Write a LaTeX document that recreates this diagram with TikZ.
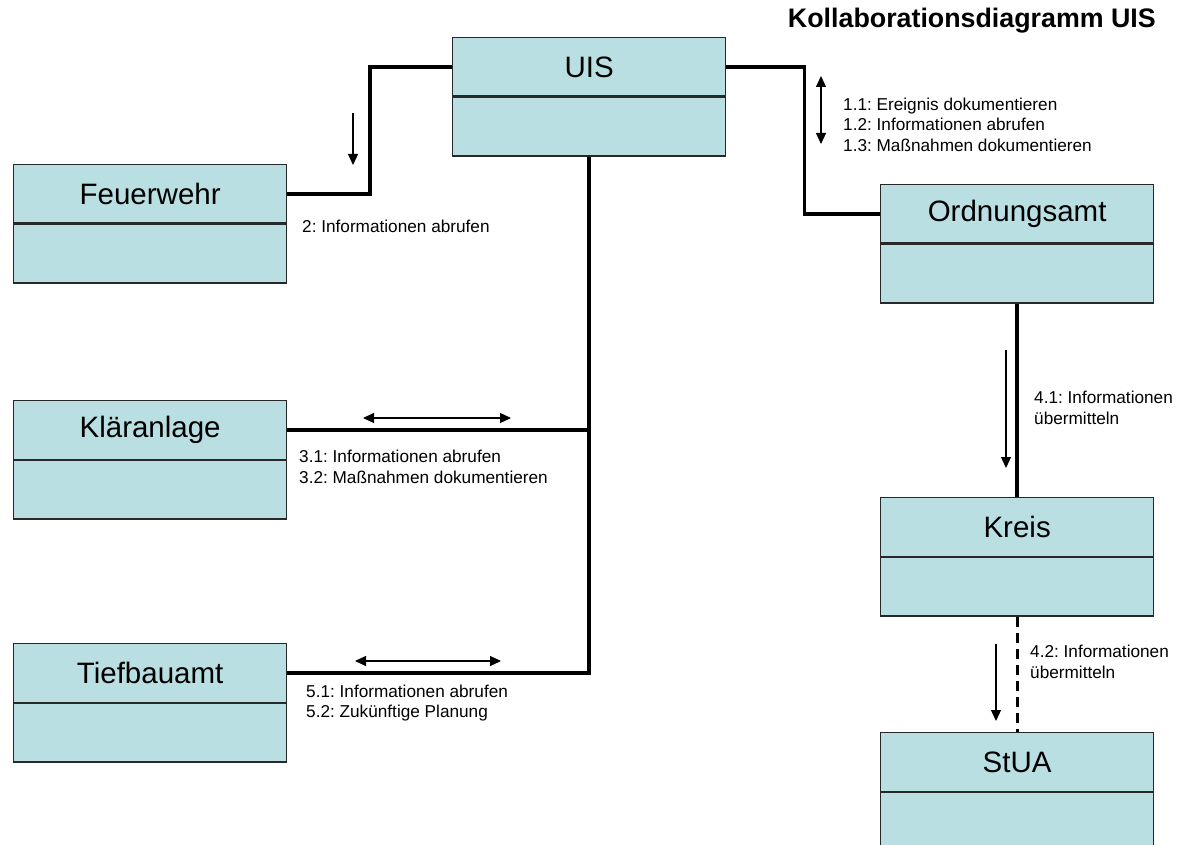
\documentclass[tikz,border=0pt]{standalone}
\usepackage{fontspec}
\setmainfont{Liberation Sans}
\usetikzlibrary{arrows.meta}
\definecolor{boxfill}{RGB}{185,223,227}
\definecolor{boxline}{RGB}{40,40,40}
\frenchspacing
\tikzset{
  ctop/.style={draw=boxline, fill=boxfill, line width=1.3pt, minimum width=273pt, minimum height=58.5pt, inner sep=0pt, anchor=north west, font=\fontsize{29.5}{34}\selectfont},
  cbot/.style={draw=boxline, fill=boxfill, line width=1.3pt, minimum width=273pt, minimum height=58.5pt, inner sep=0pt, anchor=north},
  conn/.style={draw=black, line width=3.6pt},
  dconn/.style={draw=black, line width=3pt, dash pattern=on 10pt off 6pt},
  msg/.style={draw=black, line width=1.2pt, -{Triangle[length=11pt,width=10pt]}},
  dmsg/.style={draw=black, line width=1.2pt, {Triangle[length=11pt,width=10pt]}-{Triangle[length=11pt,width=10pt]}},
  lbl/.style={anchor=west, inner sep=0pt, align=left, font=\fontsize{17.2}{20.5}\selectfont},
  ttl/.style={anchor=east, inner sep=0pt, font=\fontsize{26.8}{30}\selectfont\bfseries}
}
\begin{document}
\begin{tikzpicture}[x=1pt,y=-1pt]
\useasboundingbox (0,0) rectangle (1178,845);
\clip (0,0) rectangle (1178,845);
\fill[white] (0,0) rectangle (1178,845);

% title
\node[ttl] (title) at (1156,21) {Kollaborationsdiagramm UIS};

% boxes
\node[ctop] (uis) at (452,37) {UIS};
\node[cbot] (uisb) at (uis.south) {};
\node[ctop] (feu) at (13,164) {Feuerwehr};
\node[cbot] (feub) at (feu.south) {};
\node[ctop] (klaer) at (13,400) {Kläranlage};
\node[cbot] (klaerb) at (klaer.south) {};
\node[ctop] (tief) at (13,643) {Tiefbauamt};
\node[cbot] (tiefb) at (tief.south) {};
\node[ctop] (ord) at (880,184) {Ordnungsamt};
\node[cbot] (ordb) at (ord.south) {};
\node[ctop] (kreis) at (880,497) {Kreis};
\node[cbot] (kreisb) at (kreis.south) {};
\node[ctop] (stua) at (880,732) {StUA};
\node[cbot, minimum height=70pt] (stuab) at (stua.south) {};

% links
\draw[conn] (uis.west) -- ++(-82,0) |- (feu.east);
\draw[conn] (uis.east) -- ++(78,0) |- (ord.west);
\draw[conn] (uisb.south) -- (uisb.south |- tief.east) -- (tief.east);
\draw[conn] (klaer.east) -- (klaer.east -| uisb.south);
\draw[conn] (ordb.south) -- (kreis.north);
\draw[dconn] (kreisb.south) -- (stua.north);

% message arrows
\coordinate (a1s) at (353,113);
\coordinate (a1e) at (353,165);
\draw[msg] (a1s) -- (a1e);
\coordinate (a2s) at (821,76);
\coordinate (a2e) at (821,144);
\draw[dmsg] (a2s) -- (a2e);
\coordinate (a3s) at (363,418);
\coordinate (a3e) at (511,418);
\draw[dmsg] (a3s) -- (a3e);
\coordinate (a5s) at (355,661);
\coordinate (a5e) at (501,661);
\draw[dmsg] (a5s) -- (a5e);
\coordinate (a41s) at (1006,350);
\coordinate (a41e) at (1006,468);
\draw[msg] (a41s) -- (a41e);
\coordinate (a42s) at (996,644);
\coordinate (a42e) at (996,721);
\draw[msg] (a42s) -- (a42e);

% labels
\node[lbl] (l2) at (302,226) {2: Informationen abrufen};
\node[lbl] (l1) at (843,124.5) {1.1: Ereignis dokumentieren\\1.2: Informationen abrufen\\1.3: Maßnahmen dokumentieren};
\node[lbl] (l3) at (299,467) {3.1: Informationen abrufen\\3.2: Maßnahmen dokumentieren};
\node[lbl] (l5) at (306,703) {5.1: Informationen abrufen\\5.2: Zukünftige Planung};
\node[lbl] (l41) at (1034,408) {4.1: Informationen\\übermitteln};
\node[lbl] (l42) at (1030,662) {4.2: Informationen\\übermitteln};
\end{tikzpicture}
\end{document}
